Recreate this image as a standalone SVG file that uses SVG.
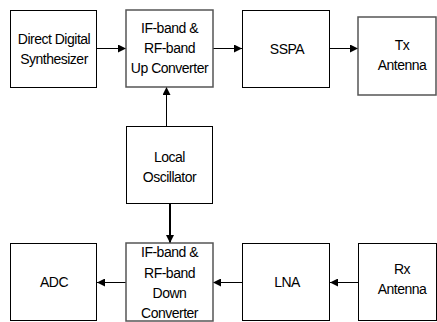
<svg xmlns="http://www.w3.org/2000/svg" width="437" height="322" viewBox="0 0 437 322">
<style>
.box{fill:#fff;stroke:#000;stroke-width:1}
.gbox{fill:#fff;stroke:#555;stroke-width:1.5}
text{font-family:"Liberation Sans",Arial,sans-serif;font-size:14px;letter-spacing:-0.5px;text-anchor:middle;fill:#000}
.c{fill:none;stroke:#000;stroke-width:1}
</style>
<defs>
<marker id="arr" viewBox="0 0 8 8" refX="8" refY="4" markerWidth="8" markerHeight="8" orient="auto" markerUnits="userSpaceOnUse"><path d="M0,0 L8,4 L0,8 z" fill="#000"/></marker>
</defs>
<rect width="437" height="322" fill="#fff"/>
<g id="connectors">
<path class="c" d="M97,48.5 H126" marker-end="url(#arr)"/>
<path class="c" d="M213,48.5 H242" marker-end="url(#arr)"/>
<path class="c" d="M330,48.5 H358" marker-end="url(#arr)"/>
<path class="c" d="M166.5,126 V87" stroke="#444" marker-end="url(#arr)"/>
<path class="c" d="M170,204 V243" style="stroke-width:2" marker-end="url(#arr)"/>
<path class="c" d="M358,282.5 H330" marker-end="url(#arr)"/>
<path class="c" d="M242,282.5 H213" marker-end="url(#arr)"/>
<path class="c" d="M126,282.5 H97" marker-end="url(#arr)"/>
</g>
<g id="dds"><rect class="box" x="10.5" y="10.5" width="86" height="77"/><text x="54" y="44">Direct Digital</text><text x="54" y="63.5">Synthesizer</text></g>
<g id="upconv"><rect class="gbox" x="126" y="10" width="87" height="77"/><text x="169.5" y="33">IF-band &amp;</text><text x="169.5" y="53">RF-band</text><text x="169.5" y="73">Up Converter</text></g>
<g id="sspa"><rect class="box" x="242.5" y="10.5" width="87" height="77"/><text x="287" y="53.5">SSPA</text></g>
<g id="tx"><rect class="gbox" x="358" y="17" width="78" height="78"/><text x="402" y="50">Tx</text><text x="402" y="69.5">Antenna</text></g>
<g id="lo"><rect class="box" x="126.5" y="126.5" width="86" height="77"/><text x="169.5" y="161.5">Local</text><text x="169.5" y="181.5">Oscillator</text></g>
<g id="adc"><rect class="box" x="10.5" y="243.5" width="86" height="77"/><text x="54" y="287">ADC</text></g>
<g id="downconv"><rect class="gbox" x="126" y="243" width="87" height="78"/><text x="169.5" y="256.5">IF-band &amp;</text><text x="169.5" y="277.5">RF-band</text><text x="169.5" y="298">Down</text><text x="169.5" y="318">Converter</text></g>
<g id="lna"><rect class="box" x="242.5" y="243.5" width="87" height="77"/><text x="287" y="287">LNA</text></g>
<g id="rx"><rect class="box" x="358.5" y="243.5" width="78" height="77"/><text x="402" y="274">Rx</text><text x="402" y="294">Antenna</text></g>
</svg>
